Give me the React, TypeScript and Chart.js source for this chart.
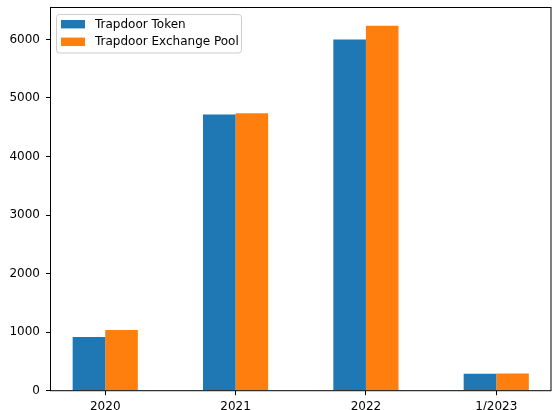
import React, { useEffect, useRef } from "react";
import { Chart, registerables } from "chart.js";

Chart.register(...registerables);

const categories = ["2020", "2021", "2022", "1/2023"];
const seriesNames = ["Trapdoor Token", "Trapdoor Exchange Pool"];
const tokenValues = [919, 4717, 6000, 291];
const poolValues = [1038, 4739, 6234, 292];
const yTicks = [0, 1000, 2000, 3000, 4000, 5000, 6000];
const seriesColors = ["#1f77b4", "#ff7f0e"];

const FONT = "DejaVu Sans";

const framePlugin = {
  id: "frame",
  afterDatasetsDraw(chart: any) {
    const { ctx, chartArea: a } = chart;
    ctx.save();
    ctx.strokeStyle = "#000";
    ctx.lineWidth = 1;
    ctx.strokeRect(a.left, a.top, a.right - a.left, a.bottom - a.top);
    ctx.restore();
  },
};

const legendPlugin = {
  id: "mplLegend",
  afterDraw(chart: any) {
    const { ctx, chartArea: a } = chart;
    const x0 = a.left + 6;
    const y0 = a.top + 7;
    const w = 185;
    const h = 38.5;
    const r = 3;
    ctx.save();
    ctx.beginPath();
    ctx.moveTo(x0 + r, y0);
    ctx.lineTo(x0 + w - r, y0);
    ctx.quadraticCurveTo(x0 + w, y0, x0 + w, y0 + r);
    ctx.lineTo(x0 + w, y0 + h - r);
    ctx.quadraticCurveTo(x0 + w, y0 + h, x0 + w - r, y0 + h);
    ctx.lineTo(x0 + r, y0 + h);
    ctx.quadraticCurveTo(x0, y0 + h, x0, y0 + h - r);
    ctx.lineTo(x0, y0 + r);
    ctx.quadraticCurveTo(x0, y0, x0 + r, y0);
    ctx.closePath();
    ctx.fillStyle = "rgba(255,255,255,0.8)";
    ctx.fill();
    ctx.strokeStyle = "#cccccc";
    ctx.lineWidth = 1;
    ctx.stroke();
    ctx.font = `12px "${FONT}"`;
    ctx.textBaseline = "middle";
    ctx.textAlign = "left";
    chart.data.datasets.forEach((ds: any, i: number) => {
      const py = y0 + 5.5 + i * 17.6;
      ctx.fillStyle = ds.backgroundColor;
      ctx.fillRect(x0 + 4.5, py, 24, 8.4);
      ctx.fillStyle = "#000";
      ctx.fillText(ds.label, x0 + 38.5, py + 4.4);
    });
    ctx.restore();
  },
};

export default function App() {
  const ref = useRef<HTMLCanvasElement | null>(null);

  useEffect(() => {
    document.body.style.margin = "0";
    const canvas = ref.current;
    if (!canvas) return;
    const maxVal = Math.max(...tokenValues, ...poolValues) * 1.05;
    const chart = new Chart(canvas, {
      type: "bar",
      data: {
        datasets: [
          {
            label: seriesNames[0],
            data: tokenValues.map((v, i) => ({ x: i, y: v })),
            backgroundColor: seriesColors[0],
            borderWidth: 0,
          },
          {
            label: seriesNames[1],
            data: poolValues.map((v, i) => ({ x: i, y: v })),
            backgroundColor: seriesColors[1],
            borderWidth: 0,
          },
        ],
      },
      options: {
        animation: false,
        responsive: false,
        maintainAspectRatio: false,
        layout: { padding: { left: 0, right: 3, top: 7.5, bottom: 0 } },
        datasets: {
          bar: { categoryPercentage: 0.5, barPercentage: 1 },
        },
        plugins: {
          legend: { display: false },
          tooltip: { enabled: false },
        },
        scales: {
          x: {
            type: "linear",
            min: -0.42,
            max: categories.length - 1 + 0.42,
            offset: false,
            afterBuildTicks: (scale: any) => {
              scale.ticks = categories.map((_, i) => ({ value: i }));
            },
            afterFit: (scale: any) => {
              scale.height = 19.3;
              scale.paddingLeft = 0;
              scale.paddingRight = 0;
            },
            border: { display: false },
            grid: {
              offset: false,
              drawOnChartArea: false,
              drawTicks: true,
              tickLength: 4.5,
              color: "#000",
              lineWidth: 1,
            },
            ticks: {
              autoSkip: false,
              maxRotation: 0,
              padding: 4,
              color: "#000",
              font: { family: FONT, size: 12 },
              callback: (v: any) => categories[Math.round(Number(v))] ?? "",
            },
          },
          y: {
            type: "linear",
            min: 0,
            max: maxVal,
            afterBuildTicks: (scale: any) => {
              scale.ticks = yTicks.map((v) => ({ value: v }));
            },
            afterFit: (scale: any) => {
              scale.width = 50.5;
              scale.paddingTop = 0;
              scale.paddingBottom = 0;
            },
            border: { display: false },
            grid: {
              offset: false,
              drawOnChartArea: false,
              drawTicks: true,
              tickLength: 4.5,
              color: "#000",
              lineWidth: 1,
            },
            ticks: {
              padding: 6,
              color: "#000",
              font: { family: FONT, size: 12 },
              callback: (v: any) => String(v),
            },
          },
        },
      },
      plugins: [framePlugin, legendPlugin],
    } as any);
    return () => chart.destroy();
  }, []);

  return (
    <div style={{ width: 554, height: 410, background: "#fff" }}>
      <canvas ref={ref} width={554} height={410} style={{ display: "block" }} />
    </div>
  );
}
